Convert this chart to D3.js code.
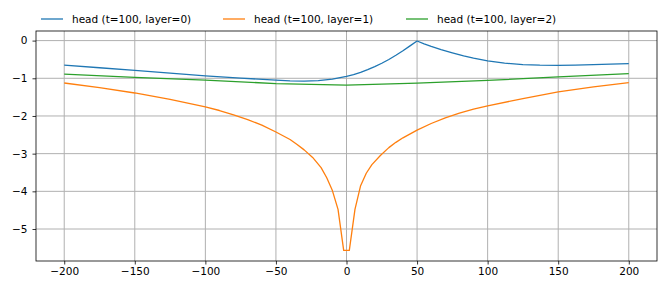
<!DOCTYPE html>
<html>
<head>
<meta charset="utf-8">
<script src="https://cdn.jsdelivr.net/npm/d3@7"></script>
<style>
  body { margin: 0; background: #fff; }
  text { font-family: "DejaVu Sans", sans-serif; }
</style>
</head>
<body>
<div id="chart"></div>
<script>
// heads, one pair of arrays per layer
const x0 = [-200, -175, -150, -125, -100, -75, -50, -40, -30, -20, -10, 0, 5, 10, 15, 20, 25, 30, 35, 40, 45, 50, 55, 60, 67, 75, 83, 90, 100, 112, 125, 137, 150, 162, 175, 187, 200];
const h0 = [-0.65, -0.72, -0.79, -0.865, -0.935, -0.995, -1.05, -1.07, -1.075, -1.06, -1.02, -0.95, -0.905, -0.845, -0.77, -0.69, -0.6, -0.5, -0.39, -0.27, -0.14, -0.01, -0.085, -0.155, -0.24, -0.325, -0.405, -0.465, -0.54, -0.6, -0.635, -0.65, -0.655, -0.65, -0.64, -0.625, -0.61];

const x1 = [-200, -175, -150, -125, -100, -90, -80, -70, -60, -50, -40, -35, -30, -24, -18, -14, -10, -6, -2, 2, 6, 10, 14, 18, 24, 30, 35, 40, 50, 60, 70, 80, 90, 100, 125, 150, 175, 200];
const h1 = [-1.125, -1.25, -1.39, -1.56, -1.76, -1.855, -1.97, -2.095, -2.245, -2.425, -2.625, -2.755, -2.9, -3.1, -3.37, -3.64, -3.98, -4.48, -5.565, -5.565, -4.48, -3.85, -3.52, -3.29, -3.05, -2.84, -2.7, -2.58, -2.375, -2.2, -2.05, -1.925, -1.82, -1.73, -1.54, -1.36, -1.23, -1.115];

const x2 = [-200, -150, -100, -50, 0, 50, 100, 150, 200];
const h2 = [-0.89, -0.975, -1.05, -1.14, -1.18, -1.13, -1.055, -0.965, -0.877];

const labels = ["head (t=100, layer=0)", "head (t=100, layer=1)", "head (t=100, layer=2)"];
const colors = ["#1f77b4", "#ff7f0e", "#2ca02c"];
const xTicks = [-200, -150, -100, -50, 0, 50, 100, 150, 200];
const yTicks = [0, -1, -2, -3, -4, -5];

const W = 665, H = 292;
const margin = {top: 31, right: 8, bottom: 31, left: 36};
const width = W - margin.left - margin.right;
const height = H - margin.top - margin.bottom;

const svg = d3.select('#chart').append('svg')
  .attr('width', W)
  .attr('height', H);

const g = svg.append('g')
  .attr('transform', `translate(${margin.left},${margin.top})`);

const x = d3.scaleLinear().domain([-220, 220]).range([0, width]);
const y = d3.scaleLinear().domain([-5.849, 0.255]).range([height, 0]);

// grid
g.append('g').selectAll('line').data(xTicks).join('line')
  .attr('x1', d => x(d)).attr('x2', d => x(d))
  .attr('y1', 0).attr('y2', height)
  .attr('stroke', '#b0b0b0').attr('stroke-width', 1);
g.append('g').selectAll('line').data(yTicks).join('line')
  .attr('y1', d => y(d)).attr('y2', d => y(d))
  .attr('x1', 0).attr('x2', width)
  .attr('stroke', '#b0b0b0').attr('stroke-width', 1);

// lines
const series = [[x0, h0], [x1, h1], [x2, h2]];
const line = d3.line().x(d => x(d[0])).y(d => y(d[1]));
series.forEach((s, i) => {
  const pts = s[0].map((v, j) => [v, s[1][j]]);
  g.append('path')
    .datum(pts)
    .attr('fill', 'none')
    .attr('stroke', colors[i])
    .attr('stroke-width', 1.3)
    .attr('stroke-linejoin', 'round')
    .attr('d', line);
});

// axes
const xAxis = d3.axisBottom(x).tickValues(xTicks).tickSize(3.5).tickPadding(3.5).tickFormat(d3.format('d'));
const yAxis = d3.axisLeft(y).tickValues(yTicks).tickSize(3.5).tickPadding(5).tickFormat(d3.format('d'));

const gx = g.append('g').attr('transform', `translate(0,${height})`).call(xAxis);
const gy = g.append('g').call(yAxis);
[gx, gy].forEach(a => {
  a.select('.domain').remove();
  a.selectAll('line').attr('stroke', '#000').attr('stroke-width', 0.8);
  a.selectAll('text').attr('fill', '#000').style('font-size', '10.5px');
});

// frame
g.append('rect')
  .attr('width', width).attr('height', height)
  .attr('fill', 'none').attr('stroke', '#000').attr('stroke-width', 0.8);

// legend above the plot
const legendX = [41, 223, 406];
const leg = svg.append('g');
labels.forEach((t, i) => {
  leg.append('line')
    .attr('x1', legendX[i]).attr('x2', legendX[i] + 22)
    .attr('y1', 19).attr('y2', 19)
    .attr('stroke', colors[i]).attr('stroke-width', 1.3);
  leg.append('text')
    .attr('x', legendX[i] + 31).attr('y', 19)
    .attr('dy', '0.35em')
    .style('font-size', '10.5px')
    .text(t);
});
</script>
</body>
</html>
